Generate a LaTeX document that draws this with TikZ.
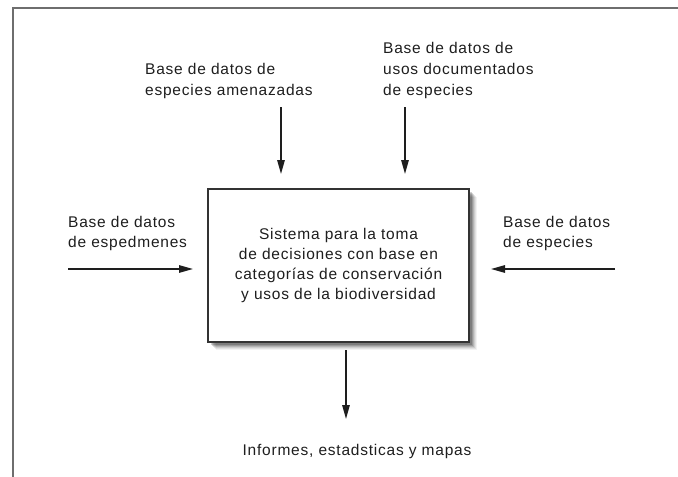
\documentclass[tikz,border=0pt]{standalone}
\usepackage{fontspec}
\setmainfont{Liberation Sans}[LetterSpace=5]
\usetikzlibrary{arrows.meta}
\definecolor{frameg}{HTML}{6E6E6E}
\definecolor{txt}{HTML}{1E1E1E}
\tikzset{
  lbl/.style={inner sep=0pt, align=left, text=txt, font=\fontsize{15.5}{21}\selectfont},
  arr/.style={line width=1.4pt, draw=txt, -{Triangle[length=14pt,width=7.5pt]}},
  mainbox/.style={draw=black!80, line width=2pt, fill=white, minimum width=261pt, minimum height=153pt,
     inner sep=0pt, align=center, text=txt, font=\fontsize{15.5}{20}\selectfont},
}
\begin{document}
\begin{tikzpicture}[x=1pt,y=-1pt]
\useasboundingbox (0,0) rectangle (678,477);
% frame
\draw[frameg, line width=2.2pt] (13,477) -- (13,8) -- (678,8);
% shadow
\foreach \d/\o in {8/0.05,7/0.07,6/0.09,5/0.12,4/0.15,3/0.18}{
  \fill[black, opacity=\o] (208+\d,189+\d) rectangle (469+\d,342+\d);
}
\node[mainbox] (box) at (338.5,265.5) {Sistema para la toma\\de decisiones con base en\\categorías de conservación\\y usos de la biodiversidad};
% labels
\node[lbl, anchor=west] (tl) at (145,81) {Base de datos de\\especies amenazadas};
\node[lbl, anchor=west] (tr) at (383,70.5) {Base de datos de\\usos documentados\\de especies};
\node[lbl, anchor=west, font=\fontsize{15.5}{20}\selectfont] (lf) at (68,233.5) {Base de datos\\de espedmenes};
\node[lbl, anchor=west, font=\fontsize{15.5}{20}\selectfont] (rt) at (503,233.5) {Base de datos\\de especies};
\node[lbl] (bt) at (357,451.5) {Informes, estadsticas y mapas};
% connector ends
\coordinate (s1) at (281,107);
\coordinate (s2) at (405,107);
\coordinate (s3) at (68,269);
\coordinate (s4) at (615,269);
\coordinate (e5) at (346,419);
\draw[arr, shorten >=14pt] (s1) -- (s1 |- box.north);
\draw[arr, shorten >=14pt] (s2) -- (s2 |- box.north);
\draw[arr, shorten >=14pt] (s3) -- (s3 -| box.west);
\draw[arr, shorten >=21pt] (s4) -- (s4 -| box.east);
\draw[arr, shorten <=7pt] (e5 |- box.south) -- (e5);
\end{tikzpicture}
\end{document}
